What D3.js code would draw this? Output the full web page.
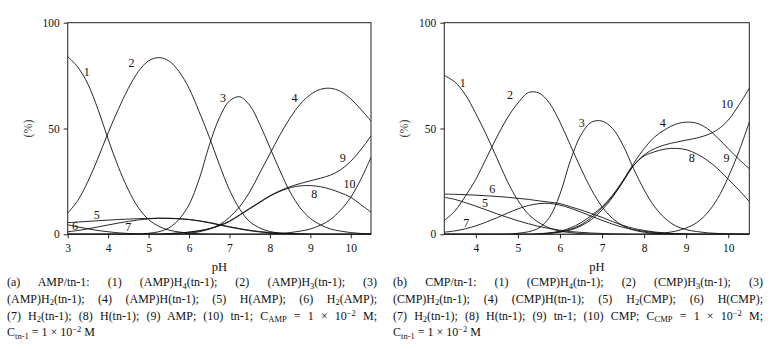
<!DOCTYPE html>
<html>
<head>
<meta charset="utf-8">
<script src="https://cdn.jsdelivr.net/npm/d3@7"></script>
<style>
  body { margin: 0; background: #fff; }
  svg text { font-family: "Liberation Serif", "DejaVu Serif", serif; fill: #111; }
</style>
</head>
<body>
<div id="wrapper"></div>
<script>
// ---- data, panel (a) AMP/tn-1 ----
const phA = [3, 3.25, 3.5, 3.75, 4, 4.25, 4.5, 4.75, 5, 5.25, 5.5, 5.75, 6, 6.25, 6.5, 6.75,
  7, 7.25, 7.5, 7.75, 8, 8.25, 8.5, 8.75, 9, 9.25, 9.5, 9.75, 10, 10.25, 10.5]
const a1 = [84, 79, 71, 59, 45, 32, 21, 12.5, 7, 3.8, 2, 1.1, 0.5, 0.25, 0.1, 0.05, 0, 0, 0, 0, 0, 0, 0, 0, 0, 0, 0, 0, 0, 0, 0]
const a2 = [10, 16, 25, 36, 48, 59, 69, 77, 82, 83.5, 82, 77, 69, 58, 46, 33, 21, 12, 6, 3, 1.3, 0.6, 0.3, 0.1, 0, 0, 0, 0, 0, 0, 0]
const a3 = [0, 0, 0, 0, 0, 0, 0, 0, 0.5, 1.2, 3, 7, 14, 26, 42, 55, 63, 65, 61, 52, 41, 30, 20, 12.5, 7.5, 4.5, 2.5, 1.5, 0.8, 0.4, 0.2]
const a4 = [0, 0, 0, 0, 0, 0, 0, 0, 0, 0, 0, 0, 0.5, 1.2, 2.5, 4.5, 8, 13, 20, 29, 38, 47, 55, 61.5, 66, 68.5, 69, 67.5, 64, 59, 53.5]
const a5 = [5.5, 5.8, 6.1, 6.4, 6.7, 7, 7.2, 7.4, 7.5, 7.6, 7.5, 7.3, 7, 6.4, 5.6, 4.6, 3.6, 2.7, 1.9, 1.3, 0.8, 0.5, 0.3, 0.15, 0.1, 0, 0, 0, 0, 0, 0]
const a6 = [4.5, 3.5, 2.6, 1.8, 1.2, 0.7, 0.4, 0.2, 0.1, 0, 0, 0, 0, 0, 0, 0, 0, 0, 0, 0, 0, 0, 0, 0, 0, 0, 0, 0, 0, 0, 0]
const a7 = [1.2, 1.8, 2.6, 3.5, 4.4, 5.3, 6.1, 6.8, 7.3, 7.6, 7.6, 7.4, 7, 6.3, 5.4, 4.4, 3.4, 2.5, 1.7, 1.1, 0.7, 0.4, 0.2, 0.1, 0, 0, 0, 0, 0, 0, 0]
const a8 = [0, 0, 0, 0, 0, 0, 0, 0, 0, 0, 0.3, 0.6, 1, 1.6, 2.5, 4, 6, 9, 12, 15, 18, 20.3, 22, 22.9, 23, 22.5, 21.3, 19.6, 17.5, 14, 10.5]
const a9 = [0, 0, 0, 0, 0, 0, 0, 0, 0, 0, 0.3, 0.6, 1, 1.7, 2.7, 4.2, 6.3, 9.2, 12.3, 15.3, 18.2, 20.6, 22.5, 24, 25.3, 26.5, 28, 30.5, 34.5, 40, 46.5]
const a10 = [0, 0, 0, 0, 0, 0, 0, 0, 0, 0, 0, 0, 0, 0, 0, 0, 0, 0, 0, 0, 0.2, 0.4, 0.8, 1.5, 2.5, 4.3, 7, 11.5, 17.5, 26, 36.4]
// curve label anchors [pH, %]
const labelsA = [[3.47, 77], [4.58, 81], [6.84, 64.5], [8.61, 64.5], [3.72, 9], [3.18, 4], [4.5, 3.6], [9.1, 19], [9.8, 36], [9.97, 24]]
const ticksA = [3, 4, 5, 6, 7, 8, 9, 10]

// ---- data, panel (b) CMP/tn-1 ----
const phB = [3.25, 3.5, 3.75, 4, 4.25, 4.5, 4.75, 5, 5.25, 5.5, 5.75, 6, 6.25, 6.5, 6.75,
  7, 7.25, 7.5, 7.75, 8, 8.25, 8.5, 8.75, 9, 9.25, 9.5, 9.75, 10, 10.25, 10.5]
const b1 = [75, 72, 66, 57, 47, 36, 25, 16, 9.5, 5.5, 3, 1.5, 0.8, 0.3, 0.1, 0, 0, 0, 0, 0, 0, 0, 0, 0, 0, 0, 0, 0, 0, 0]
const b2 = [6.5, 11, 18, 26, 36, 46, 55, 62, 67, 66.8, 62, 53, 42, 31, 21, 13, 7.5, 4, 2, 1, 0.5, 0.2, 0.1, 0, 0, 0, 0, 0, 0, 0]
const b3 = [0, 0, 0, 0, 0, 0, 0, 0.5, 1.2, 3, 8, 19, 35, 47, 53, 53.5, 50, 42, 31, 21, 13, 7.5, 4, 2.2, 1.3, 0.7, 0.4, 0.2, 0.1, 0]
const b4 = [0, 0, 0, 0, 0, 0, 0, 0, 0, 0.3, 0.7, 1.5, 3, 5.5, 9, 13, 18.5, 25.5, 33.5, 40.5, 46, 49.5, 52, 53, 52.5, 50, 45.5, 40.5, 35.5, 31]
const b5 = [17.5, 16.5, 15, 13.3, 11.5, 9.7, 8, 6.4, 5, 3.7, 2.7, 1.9, 1.3, 0.9, 0.6, 0.4, 0.2, 0.1, 0, 0, 0, 0, 0, 0, 0, 0, 0, 0, 0, 0]
const b6 = [19, 18.9, 18.7, 18.5, 18.2, 17.9, 17.5, 17, 16.5, 15.8, 15.2, 14.5, 13, 11.5, 9.8, 8, 6, 4.2, 2.8, 1.8, 1.1, 0.6, 0.3, 0.1, 0, 0, 0, 0, 0, 0]
const b7 = [1, 1.6, 2.6, 4, 5.8, 7.8, 10, 12, 13.6, 14.5, 14.6, 13.8, 12.3, 10.5, 8.5, 6.6, 4.8, 3.3, 2.2, 1.4, 0.8, 0.4, 0.2, 0.1, 0, 0, 0, 0, 0, 0]
const b8 = [0, 0, 0, 0, 0, 0, 0, 0, 0, 0, 0.5, 1, 2, 4, 7, 11.5, 17.5, 25, 32.5, 37, 39, 40.3, 40.6, 40, 38, 35, 31, 26, 21, 15.5]
const b9 = [0, 0, 0, 0, 0, 0, 0, 0, 0, 0, 0, 0, 0, 0, 0, 0, 0, 0, 0, 0, 0.3, 0.7, 1.5, 3, 5.5, 10, 17, 27, 39, 53]
const b10 = [0, 0, 0, 0, 0, 0, 0, 0, 0, 0, 0.5, 1.2, 2.4, 4.5, 8, 12.5, 18, 25, 32.5, 37.5, 40.5, 42.3, 43.5, 44.5, 45.5, 47, 49.5, 54, 61, 69]
const labelsB = [[3.69, 71.4], [4.81, 66], [6.52, 52.5], [8.44, 52.7], [4.22, 15], [4.39, 21.3], [3.77, 5.5], [9.13, 36], [9.96, 36], [9.97, 61.9]]
const ticksB = [4, 5, 6, 7, 8, 9, 10]

const yTicks = [0, 50, 100]

// captions: _{..} subscript, ^{..} superscript
const captionA = [
  "(a) AMP/tn-1: (1) (AMP)H_{4}(tn-1); (2) (AMP)H_{3}(tn-1); (3)",
  "(AMP)H_{2}(tn-1); (4) (AMP)H(tn-1); (5) H(AMP); (6) H_{2}(AMP);",
  "(7) H_{2}(tn-1); (8) H(tn-1); (9) AMP; (10) tn-1; C_{AMP} = 1 × 10^{−2} M;",
  "C_{tn-1} = 1 × 10^{−2} M",
]
const captionB = [
  "(b) CMP/tn-1: (1) (CMP)H_{4}(tn-1); (2) (CMP)H_{3}(tn-1); (3)",
  "(CMP)H_{2}(tn-1); (4) (CMP)H(tn-1); (5) H_{2}(CMP); (6) H(CMP);",
  "(7) H_{2}(tn-1); (8) H(tn-1); (9) tn-1; (10) CMP; C_{CMP} = 1 × 10^{−2} M;",
  "C_{tn-1} = 1 × 10^{−2} M",
]

function drawChart() {
  const wrapper = d3.select("#wrapper")
    .append("svg")
      .attr("width", 771)
      .attr("height", 349)
      .attr("font-family", "Liberation Serif, serif")

  const panels = [
    { id: "a", left: 67.7, width: 303.3, domain: [3, 10.5], ph: phA,
      series: [a1, a2, a3, a4, a5, a6, a7, a8, a9, a10], labels: labelsA, ticks: ticksA,
      caption: captionA, capX: 7, capW: 370 },
    { id: "b", left: 444.3, width: 305, domain: [3.25, 10.5], ph: phB,
      series: [b1, b2, b3, b4, b5, b6, b7, b8, b9, b10], labels: labelsB, ticks: ticksB,
      caption: captionB, capX: 393, capW: 370 },
  ]

  const top = 22.7
  const height = 211.6

  panels.forEach(p => {
    const xScale = d3.scaleLinear().domain(p.domain).range([0, p.width])
    const yScale = d3.scaleLinear().domain([0, 100]).range([height, 0])

    const bounds = wrapper.append("g")
        .attr("transform", `translate(${p.left},${top})`)

    wrapper.append("clipPath").attr("id", "clip-" + p.id)
      .append("rect")
        .attr("x", p.left).attr("y", top)
        .attr("width", p.width).attr("height", height)

    // curves
    const line = d3.line()
      .x(d => xScale(d[0]))
      .y(d => yScale(d[1]))
      .curve(d3.curveCatmullRom.alpha(0.5))

    wrapper.append("g")
        .attr("clip-path", `url(#clip-${p.id})`)
      .append("g")
        .attr("transform", `translate(${p.left},${top})`)
      .selectAll("path")
      .data(p.series)
      .enter().append("path")
        .attr("d", s => line(d3.zip(p.ph, s)))
        .attr("fill", "none")
        .attr("stroke", "#111")
        .attr("stroke-width", 0.9)

    // frame
    bounds.append("rect")
        .attr("width", p.width)
        .attr("height", height)
        .attr("fill", "none")
        .attr("stroke", "#222")
        .attr("stroke-width", 1)

    // axes
    const xAxis = bounds.append("g")
        .attr("transform", `translate(0,${height})`)
        .call(d3.axisBottom(xScale).tickValues(p.ticks).tickSize(4).tickPadding(6).tickSizeOuter(0))
    const yAxis = bounds.append("g")
        .call(d3.axisLeft(yScale).tickValues(yTicks).tickSize(4).tickPadding(4).tickSizeOuter(0))
    ;[xAxis, yAxis].forEach(ax => {
      ax.attr("font-family", null)
      ax.select(".domain").remove()
      ax.selectAll("text").attr("font-size", 11.5).attr("fill", "#111")
      ax.selectAll("line").attr("stroke", "#222")
    })

    bounds.append("text")
        .attr("x", p.width / 2)
        .attr("y", height + 37)
        .attr("text-anchor", "middle")
        .attr("font-size", 12.5)
        .text("pH")

    bounds.append("text")
        .attr("transform", `translate(${-36},${height / 2}) rotate(-90)`)
        .attr("text-anchor", "middle")
        .attr("font-size", 12)
        .style("fill", "#444")
        .text("(%)")

    // curve numbers
    bounds.selectAll(".lbl")
      .data(p.labels)
      .enter().append("text")
        .attr("class", "lbl")
        .attr("x", d => xScale(d[0]))
        .attr("y", d => yScale(d[1]))
        .attr("dy", "0.35em")
        .attr("text-anchor", "middle")
        .attr("font-size", 12)
        .text((d, i) => i + 1)

    // caption
    p.caption.forEach((str, li) => {
      const t = wrapper.append("text")
          .attr("x", p.capX)
          .attr("y", 286 + li * 16.8)
          .attr("font-size", 12)
      let shift = 0
      str.split(/(_\{[^}]*\}|\^\{[^}]*\})/).filter(s => s.length).forEach(seg => {
        let target = 0, txt = seg, size = 12
        if (seg.startsWith("_{")) { target = 2.5; txt = seg.slice(2, -1); size = 8.5 }
        else if (seg.startsWith("^{")) { target = -4; txt = seg.slice(2, -1); size = 8.5 }
        t.append("tspan")
            .attr("dy", target - shift)
            .attr("font-size", size)
            .text(txt)
        shift = target
      })
      // justify all but the last line
      if (li < p.caption.length - 1) {
        const natural = t.node().getComputedTextLength()
        const spaces = (str.match(/ /g) || []).length
        t.style("word-spacing", ((p.capW - natural) / spaces) + "px")
      }
    })
  })
}
drawChart()
</script>
</body>
</html>
